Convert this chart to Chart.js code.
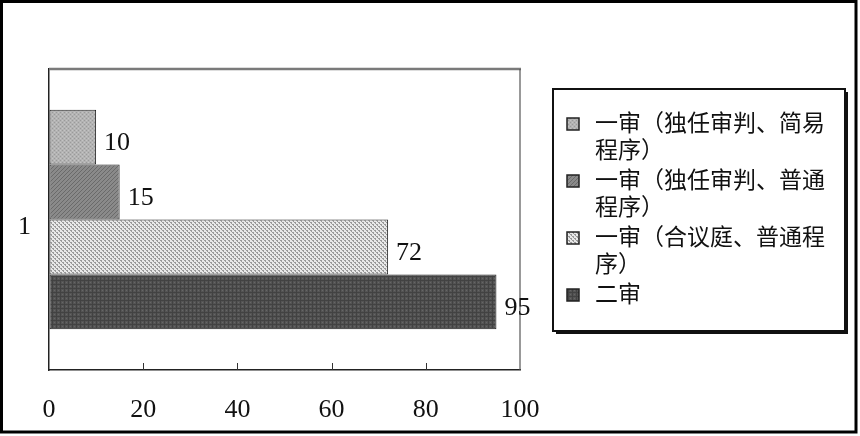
<!DOCTYPE html>
<html>
<head>
<meta charset="utf-8">
<script src="https://cdn.jsdelivr.net/npm/chart.js@4/dist/chart.umd.min.js"></script>
<style>
html,body{margin:0;padding:0;background:#fff;}
canvas{display:block;}
</style>
</head>
<body>
<canvas id="c" width="860" height="436"></canvas>
<script>
// ---- data ----
const categories = ['1'];
const seriesNames = ['一审（独任审判、简易程序）', '一审（独任审判、普通程序）', '一审（合议庭、普通程序）', '二审'];
const series1 = [10];
const series2 = [15];
const series3 = [72];
const series4 = [95];
const xTickValues = [0, 20, 40, 60, 80, 100];

// ---- patterns ----
function makePattern(size, draw) {
  const c = document.createElement('canvas');
  c.width = size; c.height = size;
  const g = c.getContext('2d');
  draw(g, size);
  return document.getElementById('c').getContext('2d').createPattern(c, 'repeat');
}
const pat1 = makePattern(4, (g) => {
  g.fillStyle = '#b3b3b3'; g.fillRect(0, 0, 4, 4);
  g.fillStyle = '#9a9a9a'; g.fillRect(0, 0, 1, 1); g.fillRect(2, 2, 1, 1);
  g.fillStyle = '#c4c4c4'; g.fillRect(2, 0, 1, 1); g.fillRect(0, 2, 1, 1);
});
const pat2 = makePattern(4, (g) => {
  g.fillStyle = '#8a8a8a'; g.fillRect(0, 0, 4, 4);
  g.fillStyle = '#6a6a6a';
  for (let i = 0; i < 4; i++) g.fillRect(i, 3 - i, 1, 1);
});
const pat3 = makePattern(4, (g) => {
  g.fillStyle = '#e8e8e8'; g.fillRect(0, 0, 4, 4);
  g.fillStyle = '#999';
  g.fillRect(0, 0, 2, 1); g.fillRect(2, 2, 2, 1); g.fillRect(1, 1, 1, 1); g.fillRect(3, 3, 1, 1);
});
const pat4 = makePattern(4, (g) => {
  g.fillStyle = '#545454'; g.fillRect(0, 0, 4, 4);
  g.fillStyle = '#424242'; g.fillRect(0, 0, 4, 1); g.fillRect(0, 0, 1, 4);
  g.fillStyle = '#666'; g.fillRect(2, 2, 1, 1);
});
const patterns = [pat1, pat2, pat3, pat4];
const allSeries = [series1, series2, series3, series4];

const numFont = '26px "Liberation Serif", "DejaVu Serif", serif';
const legendFont = '23px "Liberation Serif", "Noto Sans CJK SC", serif';

const framePlugin = {
  id: 'frame',
  beforeDraw(chart) {
    const ctx = chart.ctx;
    ctx.save();
    ctx.fillStyle = '#fff';
    ctx.fillRect(0, 0, chart.width, chart.height);
    ctx.restore();
  },
  afterDatasetsDraw(chart) {
    const ctx = chart.ctx;
    const a = chart.chartArea;
    const xs = chart.scales.x;
    ctx.save();
    // top and right plot frame (gray)
    ctx.strokeStyle = '#7a7a7a';
    ctx.lineWidth = 2.5;
    ctx.beginPath(); ctx.moveTo(a.left, a.top); ctx.lineTo(a.right + 1, a.top); ctx.stroke();
    ctx.lineWidth = 1.2;
    ctx.strokeStyle = '#555';
    ctx.beginPath(); ctx.moveTo(a.right, a.top); ctx.lineTo(a.right, a.bottom); ctx.stroke();
    // inward ticks
    ctx.strokeStyle = '#333';
    ctx.lineWidth = 1;
    xTickValues.forEach(v => {
      if (v === xs.min || v === xs.max) return;
      const px = Math.round(xs.getPixelForValue(v)) + 0.5;
      ctx.beginPath(); ctx.moveTo(px, a.bottom); ctx.lineTo(px, a.bottom - 7); ctx.stroke();
    });
    // data labels
    ctx.fillStyle = '#111';
    ctx.font = numFont;
    ctx.textAlign = 'left';
    ctx.textBaseline = 'middle';
    chart.data.datasets.forEach((ds, i) => {
      const meta = chart.getDatasetMeta(i);
      meta.data.forEach((bar, j) => {
        ctx.fillText(String(ds.data[j]), bar.x + 8, bar.y + 6);
      });
    });
    ctx.restore();
  },
  afterDraw(chart) {
    const ctx = chart.ctx;
    ctx.save();
    // legend box
    const L = 553, T = 89, R = 845, B = 331;
    ctx.fillStyle = '#111';
    ctx.fillRect(L + 3, T + 3, R - L, B - T);
    ctx.fillStyle = '#fff';
    ctx.fillRect(L, T, R - L, B - T);
    ctx.strokeStyle = '#111';
    ctx.lineWidth = 2;
    ctx.strokeRect(L, T, R - L, B - T);
    ctx.font = legendFont;
    ctx.textAlign = 'left';
    ctx.textBaseline = 'middle';
    const textX = 595, maxW = 240, lineH = 27, itemGap = 3;
    let y = 125;
    seriesNames.forEach((name, i) => {
      const lines = [];
      let cur = '';
      for (const ch of name) {
        if (ctx.measureText(cur + ch).width > maxW && cur) { lines.push(cur); cur = ch; }
        else cur += ch;
      }
      if (cur) lines.push(cur);
      ctx.fillStyle = patterns[i];
      ctx.fillRect(567, y - 7, 12, 12);
      ctx.strokeStyle = '#222';
      ctx.lineWidth = 1.5;
      ctx.strokeRect(567, y - 7, 12, 12);
      ctx.fillStyle = '#111';
      lines.forEach((ln, k) => ctx.fillText(ln, textX, y + k * lineH));
      y += lines.length * lineH + itemGap;
    });
    // outer border
    ctx.strokeStyle = '#000';
    ctx.lineWidth = 3;
    ctx.strokeRect(1.5, 1.5, 854.5, 430.5);
    ctx.restore();
  }
};

new Chart(document.getElementById('c'), {
  type: 'bar',
  data: {
    labels: categories,
    datasets: seriesNames.map((n, i) => ({
      label: n,
      data: allSeries[i],
      backgroundColor: patterns[i],
      borderColor: '#222',
      borderWidth: 1,
      borderSkipped: false,
      barPercentage: 1,
      categoryPercentage: 0.73
    }))
  },
  options: {
    indexAxis: 'y',
    responsive: false,
    animation: false,
    devicePixelRatio: 1,
    layout: { padding: { left: 0, top: 69, right: 340, bottom: 0 } },
    plugins: { legend: { display: false }, tooltip: { enabled: false } },
    scales: {
      x: {
        min: 0, max: 100,
        afterFit(s) { s.height = 66; },
        afterBuildTicks(s) { s.ticks = xTickValues.map(v => ({ value: v })); },
        ticks: { font: { family: '"Liberation Serif", serif', size: 26 }, color: '#111', padding: 25, maxRotation: 0 },
        grid: { drawOnChartArea: false, drawTicks: false },
        border: { color: '#222', width: 1.5 }
      },
      y: {
        afterFit(s) { s.width = 49; },
        ticks: { font: { family: '"Liberation Serif", serif', size: 26 }, color: '#111', padding: 18, labelOffset: 8 },
        grid: { drawOnChartArea: false, drawTicks: false },
        border: { color: '#222', width: 1.5 }
      }
    }
  },
  plugins: [framePlugin]
});
</script>
</body>
</html>
